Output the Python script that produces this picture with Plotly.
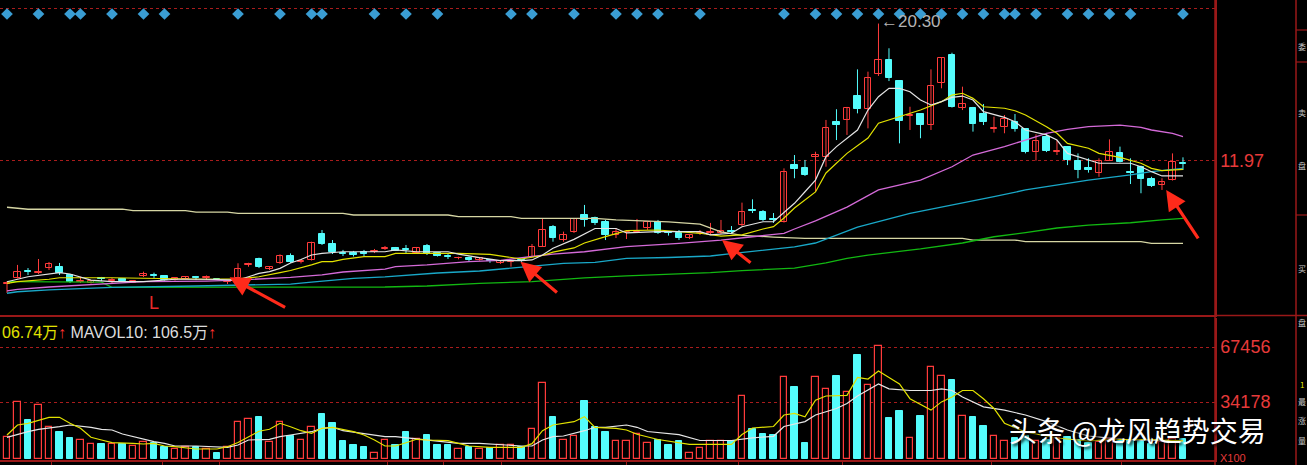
import plotly.graph_objects as go

# ---------------- data ----------------
candle_idx = list(range(113))

opens = [4.51,4.84,5.28,5.17,5.48,5.51,5.04,4.61,4.55,4.83,
         4.67,4.80,4.58,4.98,5.04,4.98,4.73,4.81,4.89,4.83,
         4.81,4.61,4.87,5.63,5.99,5.38,5.75,6.19,5.83,5.95,
         7.53,6.90,6.40,6.37,6.43,6.43,6.62,6.68,6.62,6.37,
         6.80,6.39,6.22,6.04,6.10,5.95,5.92,5.77,5.80,5.95,
         6.15,6.76,7.93,7.16,7.67,8.68,8.48,8.27,7.47,7.62,
         7.65,7.87,8.24,7.62,7.61,7.26,7.56,7.59,7.57,7.68,
         8.07,9.01,8.88,8.41,8.27,11.71,11.51,12.23,12.22,14.34,
         14.45,15.90,15.11,17.22,18.09,16.81,14.66,14.79,14.14,16.71,
         18.39,15.19,15.16,14.81,13.91,14.04,14.34,13.88,12.52,13.43,
         12.50,12.83,11.98,11.55,11.25,11.98,12.42,11.26,11.61,10.86,
         10.48,10.83,11.81]
highs = [4.66,5.65,5.46,6.01,5.83,5.77,5.06,4.93,4.70,4.92,
         4.86,4.83,4.73,5.24,5.18,5.01,4.89,4.95,4.98,5.01,
         4.85,4.73,5.75,5.78,6.09,5.58,6.29,6.35,5.98,7.06,
         7.77,7.16,6.56,6.50,6.56,6.62,6.80,6.74,6.86,6.74,
         6.92,6.43,6.31,6.15,6.16,6.13,6.01,5.91,5.89,5.98,
         6.92,8.48,8.07,7.67,8.50,9.29,8.58,8.38,7.89,7.71,
         8.44,8.26,8.38,7.71,7.77,7.50,7.77,8.20,8.38,8.01,
         9.43,9.63,8.98,8.80,11.51,12.32,12.02,12.52,14.45,15.10,
         15.24,17.52,17.38,20.30,18.80,16.87,15.25,14.87,17.52,18.27,
         18.53,16.47,15.24,15.42,14.65,14.75,14.81,13.93,13.58,13.66,
         13.23,12.87,12.42,12.12,12.12,13.27,12.83,12.12,11.68,11.00,
         10.91,12.42,12.18]
lows = [3.95,4.83,5.04,5.10,5.34,5.04,4.55,4.55,4.52,4.67,
        4.55,4.62,4.55,4.92,4.86,4.70,4.70,4.79,4.73,4.73,
        4.75,4.49,4.86,5.54,5.46,5.34,5.71,5.77,5.74,5.92,
        6.86,6.31,6.19,6.16,6.19,6.37,6.56,6.50,6.35,6.34,
        6.25,6.16,6.01,5.99,5.89,5.91,5.78,5.71,5.54,5.84,
        6.13,6.74,7.06,7.06,7.59,7.97,8.07,7.16,7.28,7.22,
        7.59,7.77,7.53,7.43,7.16,7.22,7.47,7.47,7.53,7.53,
        8.01,8.80,8.32,8.20,8.22,10.91,11.05,10.09,11.61,13.23,
        13.54,14.85,13.94,17.12,16.81,13.03,13.84,13.34,13.84,16.37,
        15.20,15.05,13.74,14.14,13.68,13.64,13.74,12.42,11.98,12.50,
        12.32,11.71,10.91,11.25,11.00,11.96,11.87,10.56,10.00,10.38,
        10.20,10.77,11.41]
closes = [4.56,5.24,5.22,5.22,5.69,5.14,4.63,4.65,4.67,4.77,
          4.73,4.67,4.70,5.10,4.96,4.73,4.86,4.93,4.83,4.89,
          4.78,4.70,5.38,5.69,5.51,5.51,6.19,5.85,5.89,7.00,
          6.90,6.42,6.31,6.28,6.34,6.49,6.70,6.52,6.54,6.68,
          6.31,6.19,6.13,6.10,5.92,6.07,5.86,5.89,5.86,5.87,
          6.76,7.77,7.26,7.47,8.44,8.35,8.18,7.47,7.67,7.65,
          7.69,8.24,7.57,7.56,7.26,7.47,7.61,7.67,7.73,7.62,
          8.88,8.95,8.38,8.35,11.31,11.45,11.11,12.32,13.94,14.14,
          15.16,15.10,16.98,18.09,16.98,14.39,14.72,14.14,16.51,18.19,
          15.25,15.40,14.20,14.34,13.96,14.49,13.88,12.52,13.17,12.56,
          12.55,12.02,11.41,11.41,11.98,12.52,11.92,11.20,10.85,10.47,
          10.68,11.87,11.75]
volumes = [13189,34001,23293,32186,18876,16033,12403,11374,8591,8773,
           8591,8954,7563,10164,9559,7139,5748,6776,6776,5566,
           3146,7139,22264,23898,24926,10164,22083,13613,11374,19239,
           26923,21296,10588,7986,6958,3146,11193,7986,16033,11616,
           14036,7986,7986,5748,7139,5748,6534,7986,7986,7139,
           17666,45859,24926,11193,13794,34969,18876,16033,10890,10890,
           14823,9136,11495,8470,10467,3570,6534,10890,10890,10890,
           37571,17969,14823,14036,49066,43137,9499,49066,42108,50034,
           40172,62497,44528,67881,24321,28677,12463,25894,55358,50034,
           47493,25894,25289,19965,13613,10588,12403,13613,10588,11193,
           12403,13008,11193,9570,9983,11798,10588,11193,10588,8773,
           9983,12000,12025]

# moving-average lines, sampled at candle indices
ma5_x = [0,2,5,6,8,10,13,16,19,22,23,24,25,26,27,28,29,30,32,36,37,39,42,43,45,47,49,50,51,52,
         54,56,58,59,62,66,67,69,70,72,73,75,76,77,78,79,81,82,83,84,85,86,87,88,89,90,91,92,93,95,
         96,97,99,100,101,103,104,107,108,109,110,112]
ma5_y = [4.63,4.93,5.18,5.10,4.73,4.63,4.63,4.78,4.78,4.73,4.93,5.14,5.24,5.44,5.77,5.98,6.25,6.35,6.45,6.45,
         6.56,6.45,6.45,6.31,6.09,5.91,5.91,5.95,6.25,6.66,7.20,7.86,7.86,7.59,7.67,7.67,7.47,7.57,7.97,8.27,
         8.27,9.39,10.09,10.80,12.22,12.83,13.84,15.05,15.86,16.37,16.37,16.16,15.66,15.36,15.56,15.82,15.90,
         15.66,14.95,14.61,14.34,13.84,13.54,13.23,12.42,12.02,11.82,11.82,11.61,11.31,11.05,11.05]
ma10_x = [0,1,4,5,10,13,19,22,24,26,27,29,30,31,32,34,36,37,43,46,47,49,51,52,54,55,57,59,62,66,
          68,70,72,73,74,75,77,78,80,82,83,85,87,89,90,91,92,93,95,96,97,99,100,101,103,104,106,108,
          109,110,112]
ma10_y = [4.53,4.63,4.78,4.87,4.87,4.84,4.78,4.80,4.93,5.18,5.31,5.65,5.85,5.85,5.99,6.15,6.15,6.35,6.35,6.29,
          6.19,6.01,6.22,6.43,6.68,6.98,7.37,7.73,7.77,7.57,7.40,7.47,7.83,7.97,8.50,9.10,10.08,11.23,12.42,
          13.35,14.25,14.65,15.05,15.56,15.96,16.07,15.76,15.25,15.16,15.01,14.75,14.04,13.64,13.03,12.73,
          12.42,12.18,11.82,11.51,11.37,11.45]
ma20_x = [0,1,4,7,10,13,19,22,27,30,32,36,37,40,44,47,50,52,55,59,64,68,71,74,75,77,80,83,87,90,
          92,95,97,99,101,103,106,108,109,111,112]
ma20_y = [4.07,4.17,4.31,4.43,4.53,4.63,4.67,4.73,4.89,5.04,5.22,5.40,5.55,5.65,5.85,5.92,6.16,6.31,6.45,6.76,
          6.96,7.16,7.36,7.57,7.83,8.32,9.16,10.20,10.80,11.61,12.32,12.83,13.23,13.64,13.88,14.04,14.14,
          14.00,13.84,13.64,13.43]
ma60_x = [0,1,4,7,10,18,23,27,29,31,33,36,41,45,50,53,56,59,63,67,69,72,75,77,81,86,91,94,97,100,
          103,107,109,112]
ma60_y = [3.93,4.02,4.13,4.23,4.29,4.37,4.43,4.49,4.61,4.73,4.83,4.92,5.16,5.28,5.54,5.74,5.80,6.05,6.10,6.19,
          6.34,6.56,6.74,6.98,7.95,8.78,9.39,9.79,10.20,10.50,10.80,11.11,11.31,11.51]
ma120_x = [0,9,10,36,40,45,50,52,55,59,62,67,70,75,78,80,82,87,91,94,97,100,103,107,110,112]
ma120_y = [4.63,4.60,4.29,4.31,4.37,4.53,4.63,4.73,4.86,4.98,5.04,5.18,5.30,5.46,5.77,6.05,6.25,6.62,6.98,
           7.36,7.61,7.89,8.07,8.21,8.38,8.48]
ma250_x = [0,2,11,12,17,18,21,22,32,33,42,43,48,49,56,58,63,66,68,70,73,76,91,92,96,97,108,109,112]
ma250_y = [9.15,9.03,9.03,8.94,8.94,8.86,8.86,8.78,8.78,8.68,8.68,8.58,8.58,8.48,8.48,8.38,8.26,8.13,7.65,
           7.44,7.34,7.26,7.26,7.16,7.16,7.06,7.06,6.96,6.96]

mavol5_x = [0,1,2,3,4,5,6,7,8,9,10,12,13,14,15,16,18,20,21,22,23,24,25,26,27,28,29,30,31,32,
            33,34,35,36,37,38,39,40,41,42,43,44,46,48,49,50,51,52,53,54,55,56,58,59,60,61,62,65,69,70,
            71,73,74,75,76,77,78,80,81,82,83,84,85,86,88,89,90,91,92,93,94,95,97,100,103,105,109,112]
mavol5_y = [14218,20268,21296,23293,24926,24926,21296,18271,12826,11193,9559,9196,8773,9196,7563,7139,5748,
            5748,7139,9700,13000,16500,17666,21296,19239,16819,15246,18271,18876,17666,16214,14218,11193,
            7563,7563,9559,11616,11193,11193,10769,9196,7563,6776,6776,6776,9000,16819,20268,21296,22264,
            25289,18876,18271,17243,14641,13189,11495,8531,8531,14460,18453,19360,26318,27286,25289,35211,
            37813,38176,49066,48098,52998,49066,45073,36179,29282,34243,37208,41140,41140,36179,30250,
            21357,16033,12403,10588,11495,11495,10674]
mavol10_x = [0,1,2,3,4,5,6,7,8,9,10,11,12,13,14,15,16,18,20,21,22,23,25,26,27,28,29,30,31,32,
             34,36,37,39,40,42,43,45,46,48,49,50,51,52,53,55,56,57,59,60,61,64,66,69,71,73,74,76,77,79,
             80,81,83,84,86,88,89,90,91,93,95,97,99,101,103,107,112]
mavol10_y = [12826,14641,16214,17666,18271,19239,20268,19663,18876,17666,17243,14823,13189,11616,10164,9196,
             7563,7563,6776,6776,8168,11193,11616,13189,14218,15246,16214,18271,18876,16819,14823,13189,
             13189,11979,11193,10164,9196,9196,8773,8168,7563,7563,11193,13189,13613,16819,18876,18876,
             20268,18876,16335,14460,10890,10890,12463,13431,19360,22325,26318,30250,33215,37813,45073,
             42108,41140,41140,42108,41140,37208,31279,29282,26318,22325,17243,13613,11193,10650]

signal_idx = [0,3,6,7,10,13,15,22,26,29,30,35,38,41,48,50,54,58,60,62,66,74,77,79,81,83,85,87,89,91,
              93,95,96,98,101,103,105,107,112]
signal_level = 20.88

price_ticks = [11.97, 21.23]
vol_ticks = [34178, 67456]
period_ticks = [4.25, 14.8, 20.2, 36.2, 41.6, 47.1, 59.0, 69.7, 79.6, 93.75, 106.1]

peak_idx, peak_price = 83, 20.30
low_mark_idx, low_mark_price = 14, 3.34
arrow_targets = [(21.2, 4.90, 57, 31), (48.9, 5.84, 38, 32), (68.1, 7.16, 30, 24), (110.4, 10.20, 33, 50)]

side_glyphs = [('委', 47, '#c8c8c8'), ('卖', 112, '#c8c8c8'), ('盘', 165, '#c8c8c8'),
               ('买', 268, '#c8c8c8'), ('盘', 322, '#c8c8c8'), ('1', 384, '#e6e600'),
               ('最', 401, '#c8c8c8'), ('涨', 420, '#c8c8c8'), ('量', 440, '#c8c8c8')]

# ---------------- styling ----------------
RED = '#ff3b3b'
CYAN = '#54fcfc'
FRAME = '#9a1818'
GRID = '#a81c1c'
LBL = '#e63a3a'
FONT = 'Arial, "Liberation Sans", "Noto Sans CJK SC", sans-serif'

PLOT_W, PLOT_H = 1215, 460
def pxx(x):
    return x / PLOT_W
def pxy(y):
    return (PLOT_H - y) / PLOT_H

up = [c >= o for o, c in zip(opens, closes)]

fig = go.Figure()

# wicks
for flag, col in ((True, RED), (False, CYAN)):
    wx, wy = [], []
    for i in candle_idx:
        if up[i] == flag:
            wx += [i, i, None]
            wy += [lows[i], highs[i], None]
    fig.add_trace(go.Scatter(x=wx, y=wy, mode='lines', line=dict(color=col, width=1),
                             hoverinfo='skip', xaxis='x', yaxis='y'))

# bodies
for flag in (True, False):
    bx = [i for i in candle_idx if up[i] == flag]
    base = [min(opens[i], closes[i]) for i in bx]
    hgt = [abs(closes[i] - opens[i]) for i in bx]
    if flag:
        mk = dict(color='black', line=dict(color=RED, width=1))
    else:
        mk = dict(color=CYAN, line=dict(color=CYAN, width=1))
    fig.add_trace(go.Bar(x=bx, y=hgt, base=base, width=0.64, marker=mk,
                         hoverinfo='skip', xaxis='x', yaxis='y'))

# moving averages
for xs, ys, col, w in ((ma250_x, ma250_y, '#d6d6a4', 1.3),
                       (ma120_x, ma120_y, '#12b812', 1.3),
                       (ma60_x, ma60_y, '#19a8c8', 1.3),
                       (ma20_x, ma20_y, '#d46ad8', 1.3),
                       (ma10_x, ma10_y, '#e2e200', 1.2),
                       (ma5_x, ma5_y, '#e4e4e4', 1.2)):
    fig.add_trace(go.Scatter(x=xs, y=ys, mode='lines', line=dict(color=col, width=w),
                             hoverinfo='skip', xaxis='x', yaxis='y'))

# signal diamonds
fig.add_trace(go.Scatter(x=signal_idx, y=[signal_level] * len(signal_idx), mode='markers',
                         marker=dict(symbol='diamond', size=9, color='#3a9dd3'),
                         hoverinfo='skip', xaxis='x', yaxis='y', cliponaxis=False))

# volume bars
for flag in (True, False):
    vx = [i for i in candle_idx if up[i] == flag]
    vy = [volumes[i] for i in vx]
    if flag:
        mk = dict(color='black', line=dict(color=RED, width=1.2))
    else:
        mk = dict(color=CYAN, line=dict(color=CYAN, width=1))
    fig.add_trace(go.Bar(x=vx, y=vy, width=0.66, marker=mk, hoverinfo='skip',
                         xaxis='x2', yaxis='y2'))

fig.add_trace(go.Scatter(x=mavol10_x, y=mavol10_y, mode='lines', line=dict(color='#e6e6e6', width=1.2),
                         hoverinfo='skip', xaxis='x2', yaxis='y2'))
fig.add_trace(go.Scatter(x=mavol5_x, y=mavol5_y, mode='lines', line=dict(color='#e2e200', width=1.2),
                         hoverinfo='skip', xaxis='x2', yaxis='y2'))

xr = [-0.667, 115.05]
common_x = dict(range=xr, showgrid=False, zeroline=False, showticklabels=False,
                showline=True, linecolor=FRAME, linewidth=1.5, fixedrange=True)
fig.update_layout(
    width=1307, height=465,
    margin=dict(l=0, r=92, t=0, b=5),
    paper_bgcolor='black', plot_bgcolor='black',
    showlegend=False, barmode='overlay', bargap=0,
    font=dict(family=FONT),
    xaxis=dict(domain=[0, 1], anchor='y', ticks='', **common_x),
    xaxis2=dict(domain=[0, 1], anchor='y2', ticks='outside', tickvals=period_ticks,
                ticklen=4, tickcolor=FRAME, tickwidth=1, **common_x),
    yaxis=dict(domain=[pxy(315), 1], anchor='x', range=[2.61, 21.73], side='right',
               tickvals=price_ticks, ticktext=['11.97', '21.23'],
               tickfont=dict(color=LBL, size=18, family=FONT),
               showgrid=True, gridcolor=GRID, griddash='dot', gridwidth=1,
               zeroline=False, showline=True, linecolor=FRAME, linewidth=1.5, ticks='',
               fixedrange=True),
    yaxis2=dict(domain=[0, pxy(318)], anchor='x2', range=[-907.5, 85002], side='right',
                tickvals=vol_ticks, ticktext=['34178', '67456'],
                tickfont=dict(color=LBL, size=18, family=FONT),
                showgrid=True, gridcolor=GRID, griddash='dot', gridwidth=1,
                zeroline=False, showline=True, linecolor=FRAME, linewidth=1.5, ticks='',
                fixedrange=True),
)

shapes = [
    dict(type='line', xref='paper', yref='paper', x0=1, x1=1, y0=pxy(465), y1=1,
         line=dict(color=FRAME, width=1.5)),
    dict(type='line', xref='paper', yref='paper', x0=pxx(1296), x1=pxx(1296), y0=pxy(465), y1=1,
         line=dict(color=FRAME, width=1.5)),
    dict(type='line', xref='paper', yref='paper', x0=1, x1=pxx(1307), y0=pxy(315.5), y1=pxy(315.5),
         line=dict(color=FRAME, width=1.5)),
]
for yy in (30, 62, 215):
    shapes.append(dict(type='line', xref='paper', yref='paper', x0=pxx(1296), x1=pxx(1307),
                       y0=pxy(yy), y1=pxy(yy), line=dict(color=FRAME, width=1.2)))
fig.update_layout(shapes=shapes)

ann = []
# red arrows
for tx, ty, axo, ayo in arrow_targets:
    ann.append(dict(x=tx, y=ty, xref='x', yref='y', text='', showarrow=True, ax=axo, ay=ayo,
                    arrowhead=2, arrowsize=1.25, arrowwidth=3.2, arrowcolor='#ff2a1a'))
# peak label
ann.append(dict(x=peak_idx, y=peak_price, xref='x', yref='y', text='←' + f'{peak_price:.2f}',
                showarrow=False, xanchor='left', yanchor='middle', xshift=1, yshift=2,
                font=dict(color='#b4b4b4', size=17, family=FONT)))
# L marker
ann.append(dict(x=low_mark_idx, y=low_mark_price, xref='x', yref='y', text='L', showarrow=False,
                font=dict(color='#e82a2a', size=18, family=FONT)))
# MAVOL header
ann.append(dict(x=0, y=pxy(332), xref='paper', yref='paper', xanchor='left', yanchor='middle',
                showarrow=False,
                text='<span style="color:#e2e200">06.74万</span><span style="color:#ff3030">↑</span> '
                     '<span style="color:#dcdcdc">MAVOL10: 106.5万</span><span style="color:#ff3030">↑</span>',
                font=dict(size=16, family=FONT)))
# unit label
ann.append(dict(x=pxx(1219), y=pxy(458), xref='paper', yref='paper', xanchor='left', yanchor='middle',
                showarrow=False, text='X100', borderpad=0,
                font=dict(color=LBL, size=11, family=FONT)))
# side panel glyphs (small so that they fit in the narrow column)
for ch, yy, col in side_glyphs:
    ann.append(dict(x=pxx(1301.5), y=pxy(yy), xref='paper', yref='paper', xanchor='center',
                    yanchor='middle', showarrow=False, text=ch, borderpad=0,
                    font=dict(color=col, size=8, family='"Noto Sans CJK SC", sans-serif')))
# watermark
ann.append(dict(x=pxx(1137), y=pxy(430), xref='paper', yref='paper', xanchor='center',
                yanchor='middle', showarrow=False, text='头条 @龙风趋势交易', borderpad=0,
                font=dict(color='white', size=28, family='"Noto Sans CJK SC", sans-serif',
                          shadow='2px 2px 3px #000000')))
fig.update_layout(annotations=ann)

fig.write_html("out.html", config={'displayModeBar': False},
               post_script="document.body.style.margin='0';document.body.style.overflow='hidden';")
